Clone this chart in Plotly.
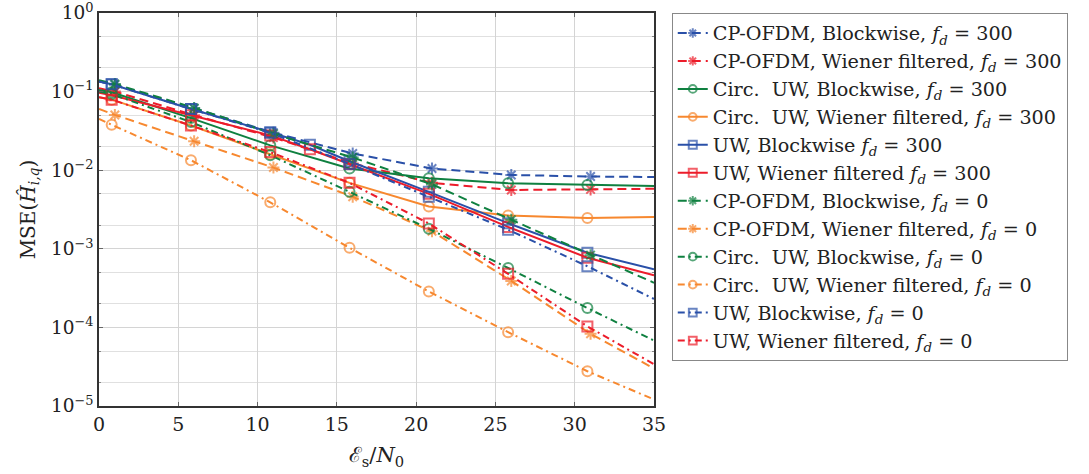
import plotly.graph_objects as go

# ---------------- data ----------------
x_star = [0, 1, 6, 11, 16, 21, 26, 31, 35]
x_uw = [0, 0.8, 5.8, 10.8, 15.8, 20.8, 25.8, 30.8, 35]
x_uw_ext = [0, 0.8, 5.8, 10.8, 13.3, 15.8, 20.8, 25.8, 30.8, 35]

cp_block_300 = [0.135, 0.122, 0.061, 0.030, 0.0163, 0.0105, 0.0087, 0.0083, 0.0082]
cp_wien_300 = [0.11, 0.10, 0.050, 0.026, 0.0122, 0.0069, 0.0056, 0.0057, 0.0058]
circ_block_300 = [0.105, 0.098, 0.046, 0.0207, 0.0105, 0.0079, 0.0068, 0.0065, 0.0063]
circ_wien_300 = [0.085, 0.079, 0.037, 0.016, 0.0069, 0.00345, 0.00266, 0.00246, 0.00253]
uw_block_300 = [0.135, 0.124, 0.060, 0.0305, 0.0211, 0.013, 0.0053, 0.00212, 0.00089, 0.00055]
uw_wien_300 = [0.097, 0.09, 0.050, 0.0277, 0.0185, 0.012, 0.0050, 0.0019, 0.00077, 0.00046]
cp_block_0 = [0.14, 0.125, 0.062, 0.029, 0.0145, 0.0066, 0.00234, 0.00083, 0.00037]
cp_wien_0 = [0.06, 0.0505, 0.0233, 0.0108, 0.0046, 0.00167, 0.00039, 8.3e-5, 3.0e-5]
circ_block_0 = [0.1, 0.093, 0.041, 0.0155, 0.0053, 0.0018, 0.00057, 0.000176, 6.8e-5]
circ_wien_0 = [0.045, 0.0378, 0.0134, 0.0039, 0.00103, 0.000286, 8.7e-5, 2.77e-5, 1.21e-5]
uw_block_0 = [0.135, 0.124, 0.060, 0.030, 0.012, 0.0046, 0.00175, 0.0006, 0.00023]
uw_wien_0 = [0.085, 0.079, 0.037, 0.017, 0.0069, 0.0021, 0.00048, 0.000103, 3.4e-5]

x_ticks = [0, 5, 10, 15, 20, 25, 30, 35]
y_ticks = [1e-5, 1e-4, 1e-3, 1e-2, 1e-1, 1]
y_ticktext = ["10<sup>−5</sup>", "10<sup>−4</sup>", "10<sup>−3</sup>",
              "10<sup>−2</sup>", "10<sup>−1</sup>", "10<sup>0</sup>"]

labels = [
    "CP-OFDM, Blockwise, <i>f<sub>d</sub></i> = 300",
    "CP-OFDM, Wiener filtered, <i>f<sub>d</sub></i> = 300",
    "Circ.  UW, Blockwise, <i>f<sub>d</sub></i> = 300",
    "Circ.  UW, Wiener filtered, <i>f<sub>d</sub></i> = 300",
    "UW, Blockwise <i>f<sub>d</sub></i> = 300",
    "UW, Wiener filtered <i>f<sub>d</sub></i> = 300",
    "CP-OFDM, Blockwise, <i>f<sub>d</sub></i> = 0",
    "CP-OFDM, Wiener filtered, <i>f<sub>d</sub></i> = 0",
    "Circ.  UW, Blockwise, <i>f<sub>d</sub></i> = 0",
    "Circ.  UW, Wiener filtered, <i>f<sub>d</sub></i> = 0",
    "UW, Blockwise, <i>f<sub>d</sub></i> = 0",
    "UW, Wiener filtered, <i>f<sub>d</sub></i> = 0",
]

# ---------------- style ----------------
BLUE = "#2a50a8"
RED = "#ec1c2a"
GREEN = "#0f8040"
ORANGE = "#f7882f"
DASH = "9px,5px"
DASHDOT = "7px,4px,2px,4px"

series = [
    (x_star, cp_block_300, BLUE, DASH, "asterisk-open"),
    (x_star, cp_wien_300, RED, DASH, "asterisk-open"),
    (x_uw, circ_block_300, GREEN, "solid", "circle-open"),
    (x_uw, circ_wien_300, ORANGE, "solid", "circle-open"),
    (x_uw_ext, uw_block_300, BLUE, "solid", "square-open"),
    (x_uw_ext, uw_wien_300, RED, "solid", "square-open"),
    (x_star, cp_block_0, GREEN, DASH, "asterisk-open"),
    (x_star, cp_wien_0, ORANGE, DASH, "asterisk-open"),
    (x_uw, circ_block_0, GREEN, DASHDOT, "circle-open"),
    (x_uw, circ_wien_0, ORANGE, DASHDOT, "circle-open"),
    (x_uw, uw_block_0, BLUE, DASHDOT, "square-open"),
    (x_uw, uw_wien_0, RED, DASHDOT, "square-open"),
]

FONT = "DejaVu Serif"
TXT = "#222"

fig = go.Figure()
for (xs, ys, col, dash, sym), lab in zip(series, labels):
    n = len(xs)
    sizes = [0] + [10] * (n - 2) + [0]
    fig.add_trace(go.Scatter(
        x=xs, y=ys, mode="lines+markers", name=lab,
        line=dict(color=col, width=2, dash=dash),
        marker=dict(symbol=sym, size=sizes, color=col,
                    line=dict(color=col, width=2)),
    ))

fig.update_layout(
    width=1089, height=474,
    margin=dict(l=99, r=435, t=13, b=68, autoexpand=False),
    paper_bgcolor="white", plot_bgcolor="white",
    font=dict(family=FONT, size=19, color=TXT),
    showlegend=True,
    legend=dict(
        x=1.032, y=1.0, xanchor="left", yanchor="top",
        bordercolor="#888", borderwidth=1, bgcolor="white",
        font=dict(family=FONT, size=19.2, color=TXT),
        tracegroupgap=0, itemwidth=30, maxheight=1.0,
    ),
)

fig.update_xaxes(
    range=[0, 35], tickvals=x_ticks, automargin=False,
    showgrid=True, gridcolor="#d4d4d4", gridwidth=1,
    showline=True, linecolor="#333", linewidth=1.5, mirror="allticks",
    ticks="inside", ticklen=4, tickcolor="#666", zeroline=False,
    tickfont=dict(family=FONT, size=19, color=TXT),
    ticklabeloverflow="allow",
    title=dict(text="ℰ<sub>s</sub>/<i>N</i><sub>0</sub>", standoff=14,
               font=dict(family=FONT, size=21, color=TXT)),
)

fig.update_yaxes(
    type="log", range=[-5, 0], automargin=False,
    tickvals=y_ticks, ticktext=y_ticktext,
    showgrid=True, gridcolor="#d4d4d4", gridwidth=1,
    minor=dict(showgrid=True, gridcolor="#e0e0e0", ticks="inside",
               ticklen=2, tickcolor="#888"),
    showline=True, linecolor="#333", linewidth=1.5, mirror="allticks",
    ticks="inside", ticklen=4, tickcolor="#666", zeroline=False,
    tickfont=dict(family=FONT, size=18.5, color=TXT),
    ticklabeloverflow="allow",
    title=dict(text="MSE(<i>Ĥ</i><sub><i>i,q</i></sub>)",
               standoff=10, font=dict(family=FONT, size=20, color=TXT)),
)

fig.write_html("out.html")
